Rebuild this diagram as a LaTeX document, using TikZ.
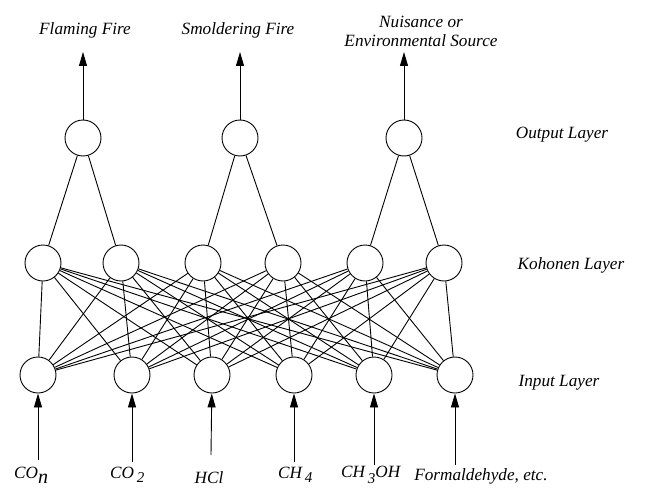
\documentclass[tikz,border=0pt]{standalone}
\usepackage{fontspec}
\setmainfont{Liberation Serif}
\usetikzlibrary{arrows.meta}
\begin{document}
\begin{tikzpicture}[x=1pt,y=-1pt,
  neuron/.style={circle,draw,line width=0.9pt,minimum size=36pt,inner sep=0pt,fill=white},
  conn/.style={line width=0.9pt},
  sig/.style={line width=0.9pt,-{Triangle[width=8pt,length=14pt]}},
  lbl/.style={font=\fontsize{17.2}{19}\selectfont\itshape,inner sep=0pt,align=center}]
\useasboundingbox (0,0) rectangle (653,503);
% output layer
\node[neuron] (o1) at (83,138) {};
\node[neuron] (o2) at (240,138) {};
\node[neuron] (o3) at (404,138) {};
% kohonen layer
\foreach \i/\x in {1/43,2/121,3/203,4/283,5/365,6/444}
  \node[neuron] (k\i) at (\x,263) {};
% input layer
\foreach \i/\x in {1/38,2/132,3/212,4/294,5/374,6/455}
  \node[neuron] (n\i) at (\x,375) {};
% connections
\foreach \i in {1,...,6}
  \foreach \j in {1,...,6}
    \draw[conn] (k\i) -- (n\j);
\draw[conn] (o1) -- (k1); \draw[conn] (o1) -- (k2);
\draw[conn] (o2) -- (k3); \draw[conn] (o2) -- (k4);
\draw[conn] (o3) -- (k5); \draw[conn] (o3) -- (k6);
% output arrows and labels
\coordinate (t1) at (83,52);
\coordinate (t2) at (240,52);
\coordinate (t3) at (404,52);
\draw[sig] (o1) -- (t1);
\draw[sig] (o2) -- (t2);
\draw[sig] (o3) -- (t3);
\node[lbl] (l1) at (85,30) {Flaming Fire};
\node[lbl] (l2) at (238,30) {Smoldering Fire};
\node[lbl] (l3) at (421,31) {Nuisance or\\Environmental Source};
% layer labels
\node[lbl] (lo) at (562,135) {Output Layer};
\node[lbl] (lk) at (571,265) {Kohonen Layer};
\node[lbl] (li) at (559,383) {Input Layer};
% input arrows
\coordinate (s1) at (38,460);
\coordinate (s2) at (132,462);
\coordinate (s3) at (211,455);
\coordinate (s4) at (294,462);
\coordinate (s5) at (374,465);
\coordinate (s6) at (455,465);
\foreach \i in {1,...,6}
  \draw[sig] (s\i) -- (n\i);
% input labels
\node[lbl,anchor=west] (c1) at (14,475) {CO\raisebox{-0.6ex}{\fontsize{20}{20}\selectfont n}};
\node[lbl,anchor=west] (c2) at (110,475) {CO\,\raisebox{-0.55ex}{\fontsize{15}{16}\selectfont 2}};
\node[lbl] (c3) at (209,478) {HCl};
\node[lbl,anchor=west] (c4) at (278,475) {CH\,\raisebox{-0.55ex}{\fontsize{15}{16}\selectfont 4}};
\node[lbl,anchor=west] (c5) at (341,475) {CH\,\raisebox{-0.7ex}{\fontsize{15}{16}\selectfont 3}OH};
\node[lbl] (c6) at (481,476) {Formaldehyde, etc.};
\end{tikzpicture}
\end{document}
